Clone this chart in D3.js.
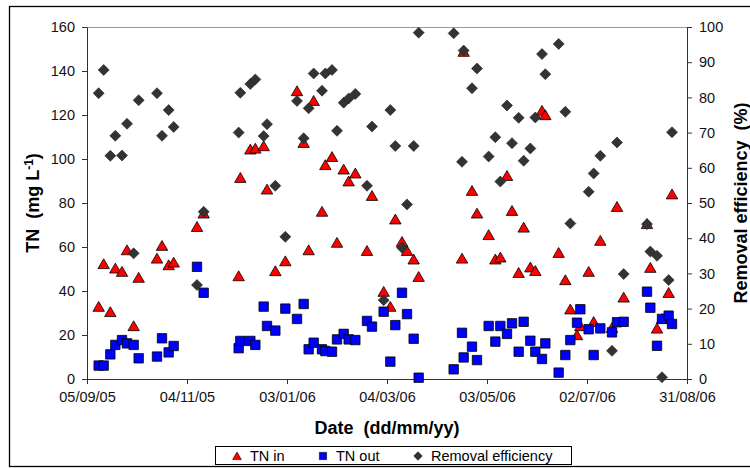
<!DOCTYPE html>
<html>
<head>
<meta charset="utf-8">
<script src="https://cdn.jsdelivr.net/npm/d3@7"></script>
<style>
  body { margin: 0; background: #fff; }
  svg { display: block; font-family: Arial, "Liberation Sans", sans-serif; }
</style>
</head>
<body>
<div class="chart"></div>
<script>
// sampling dates and values
var dates = ["2005-09-12","2005-09-15","2005-09-19","2005-09-22","2005-09-26","2005-09-29","2005-10-03","2005-10-06",
  "2005-10-17","2005-10-20","2005-10-24","2005-10-27","2005-11-10","2005-11-14","2005-12-05","2005-12-06",
  "2005-12-12","2005-12-15","2005-12-20","2005-12-22","2005-12-27","2006-01-02","2006-01-09","2006-01-13",
  "2006-01-16","2006-01-19","2006-01-24","2006-01-26","2006-01-30","2006-02-02","2006-02-06","2006-02-09",
  "2006-02-13","2006-02-20","2006-02-23","2006-03-02","2006-03-06","2006-03-09","2006-03-13","2006-03-16",
  "2006-03-20","2006-03-23","2006-04-13","2006-04-18","2006-04-19","2006-04-24","2006-04-27","2006-05-04",
  "2006-05-08","2006-05-11","2006-05-15","2006-05-18","2006-05-22","2006-05-25","2006-05-29","2006-06-01",
  "2006-06-05","2006-06-07","2006-06-15","2006-06-19","2006-06-22","2006-06-26","2006-06-28","2006-07-03",
  "2006-07-06","2006-07-10","2006-07-17","2006-07-20","2006-07-24","2006-08-07","2006-08-09","2006-08-13",
  "2006-08-16","2006-08-20","2006-08-22"];

var tnIn = [32.9,52.3,30.5,50.3,48.8,58.6,24.1,46.1,
  54.8,60.6,51.8,53,69.2,75.3,46.8,91.5,
  104.4,104.8,105.9,86.2,49.1,53.6,130.9,107.4,
  58.6,126.5,76.1,97.3,101,62,95.3,89.9,
  93.5,58.3,83.3,39.7,32.9,72.6,62.4,58.3,
  54.4,46.5,null,54.8,148.8,85.6,75.3,65.5,
  54.4,55.3,92.4,76.5,48.3,68.9,50.8,49.2,
  122,120,57.4,45,31.7,20,24.1,48.8,
  26,62.9,23.3,78.3,37.1,70.5,50.6,23,
  27.4,39.2,84];

var tnOut = [6.1,6.1,11.2,15.5,17.7,16.2,15.5,9.4,
  10.2,18.5,12.1,15,51,39.2,14,17.3,
  17.3,15.5,32.9,24.1,22,32,27.3,34.1,
  13.5,16.5,13.5,12.7,12.4,18,20.5,18,
  17.7,26.4,23.8,30.6,7.9,24.5,39.2,29.5,
  18.3,0.6,4.4,21,9.8,14.7,8.6,24.1,
  17,24.1,20.5,25.3,12.4,26,17.4,12.4,
  9.1,16.2,2.9,10.9,17.7,25.6,31.7,22.6,
  10.9,23,21.2,25.8,26,39.7,32.4,15.1,
  27.3,28.8,25];

var efficiency = [81.2,87.8,63.4,69.1,63.5,72.5,35.7,79.2,
  81.2,69.1,76.4,71.6,26.7,47.5,70,81.3,
  83.8,85.1,69,72.4,54.9,40.4,79,68.4,
  76.9,86.8,81.9,86.8,87.8,70.5,78.5,79.7,
  81,54.9,71.7,22.4,76.4,66.2,37.3,49.6,
  66.2,98.4,98.2,61.7,93.3,82.6,88.2,63.2,
  68.7,56.1,77.7,67,74.2,62,65.5,74.3,
  92.3,86.6,95.2,75.9,44.2,null,null,53.2,
  58.4,63.4,8,67.2,29.8,44,36.2,35,
  0.5,28.1,70.1];

var dateTicks = ["2005-09-05","2005-11-04","2006-01-03","2006-03-04","2006-05-03","2006-07-02","2006-08-31"];
var tnTicks = [0,20,40,60,80,100,120,140,160];
var effTicks = [0,10,20,30,40,50,60,70,80,90,100];

var W = 750, H = 468;
var plotLeft = 87, plotRight = 687, plotTop = 27, plotBottom = 379;

var parse = d3.utcParse("%Y-%m-%d");
var fmt = d3.utcFormat("%d/%m/%y");

var svg = d3.select(".chart").append("svg")
  .attr("width", W).attr("height", H);

// outer chart frame
svg.append("rect")
  .attr("x", 9.5).attr("y", 6.5)
  .attr("width", 745).attr("height", 460)
  .attr("fill", "none").attr("stroke", "#000").attr("stroke-width", 1.3);

var x = d3.scaleUtc()
  .domain([parse(dateTicks[0]), parse(dateTicks[dateTicks.length - 1])])
  .range([plotLeft, plotRight]);
var yL = d3.scaleLinear().domain([0, 160]).range([plotBottom, plotTop]);
var yR = d3.scaleLinear().domain([0, 100]).range([plotBottom, plotTop]);

// plot area top border
svg.append("line")
  .attr("x1", plotLeft).attr("x2", plotRight).attr("y1", plotTop + 0.5).attr("y2", plotTop + 0.5)
  .attr("stroke", "#999");

var xAxis = svg.append("g")
  .attr("transform", "translate(0," + plotBottom + ")")
  .call(d3.axisBottom(x).tickValues(dateTicks.map(parse)).tickFormat(fmt).tickSizeInner(5).tickSizeOuter(0).tickPadding(8));

var yAxisL = svg.append("g")
  .attr("transform", "translate(" + plotLeft + ",0)")
  .call(d3.axisLeft(yL).tickValues(tnTicks).tickSizeInner(5).tickSizeOuter(0).tickPadding(7));

var yAxisR = svg.append("g")
  .attr("transform", "translate(" + plotRight + ",0)")
  .call(d3.axisRight(yR).tickValues(effTicks).tickSizeInner(5).tickSizeOuter(0).tickPadding(7));

[xAxis, yAxisL, yAxisR].forEach(function(g) {
  g.select(".domain").attr("stroke", "#333");
  g.selectAll(".tick line").attr("stroke", "#333");
  g.selectAll("text").attr("font-size", 14.5).attr("fill", "#111")
    .attr("font-family", "Arial, 'Liberation Sans', sans-serif");
});

// axis titles
svg.append("text")
  .attr("x", 387).attr("y", 434)
  .attr("text-anchor", "middle")
  .attr("font-size", 18).attr("font-weight", "bold")
  .text("Date\u00a0\u00a0(dd/mm/yy)");

var tnTitle = svg.append("text")
  .attr("transform", "translate(39,203) rotate(-90)")
  .attr("text-anchor", "middle")
  .attr("font-size", 18).attr("font-weight", "bold");
tnTitle.append("tspan").text("TN\u00a0\u00a0(mg L");
tnTitle.append("tspan").attr("dy", -6).attr("font-size", 12).text("-1");
tnTitle.append("tspan").attr("dy", 6).text(")");

svg.append("text")
  .attr("transform", "translate(747,203) rotate(-90)")
  .attr("text-anchor", "middle")
  .attr("font-size", 18).attr("font-weight", "bold")
  .text("Removal efficiency\u00a0\u00a0(%)");

// marker shapes
function triPath(s) { return "M0," + (-s) + "L" + (s * 1.1) + "," + (s * 0.9) + "L" + (-s * 1.1) + "," + (s * 0.9) + "Z"; }
function sqPath(s) { return "M" + (-s) + "," + (-s) + "H" + s + "V" + s + "H" + (-s) + "Z"; }
function diaPath(s) { return "M0," + (-s) + "L" + s + ",0L0," + s + "L" + (-s) + ",0Z"; }

var rows = dates.map(function(d, i) {
  return { date: parse(d), tnIn: tnIn[i], tnOut: tnOut[i], eff: efficiency[i] };
});

var plot = svg.append("g");

plot.selectAll(".tnin")
  .data(rows.filter(function(d) { return d.tnIn != null; }))
  .enter().append("path")
  .attr("class", "tnin")
  .attr("d", triPath(5.2))
  .attr("transform", function(d) { return "translate(" + x(d.date) + "," + yL(d.tnIn) + ")"; })
  .attr("fill", "#ff0000").attr("stroke", "#000").attr("stroke-width", 0.8);

plot.selectAll(".tnout")
  .data(rows.filter(function(d) { return d.tnOut != null; }))
  .enter().append("path")
  .attr("class", "tnout")
  .attr("d", sqPath(4.7))
  .attr("transform", function(d) { return "translate(" + x(d.date) + "," + yL(d.tnOut) + ")"; })
  .attr("fill", "#0000ff").attr("stroke", "#000").attr("stroke-width", 0.8);

plot.selectAll(".eff")
  .data(rows.filter(function(d) { return d.eff != null; }))
  .enter().append("path")
  .attr("class", "eff")
  .attr("d", diaPath(5.5))
  .attr("transform", function(d) { return "translate(" + x(d.date) + "," + yR(d.eff) + ")"; })
  .attr("fill", "#333333").attr("stroke", "#222").attr("stroke-width", 0.6);

// legend
var legend = svg.append("g");
legend.append("rect")
  .attr("x", 215.5).attr("y", 446.5).attr("width", 356).attr("height", 18)
  .attr("fill", "#fff").attr("stroke", "#000");

var legendItems = [
  { label: "TN in", d: triPath(4), fill: "#ff0000", x: 237 },
  { label: "TN out", d: sqPath(3.6), fill: "#0000ff", x: 323 },
  { label: "Removal efficiency", d: diaPath(4.2), fill: "#333333", x: 418 }
];
legendItems.forEach(function(it) {
  legend.append("path")
    .attr("d", it.d)
    .attr("transform", "translate(" + it.x + ",456)")
    .attr("fill", it.fill).attr("stroke", "#000").attr("stroke-width", 0.6);
  legend.append("text")
    .attr("x", it.x + 13).attr("y", 461)
    .attr("font-size", 14.5)
    .text(it.label);
});
</script>
</body>
</html>
